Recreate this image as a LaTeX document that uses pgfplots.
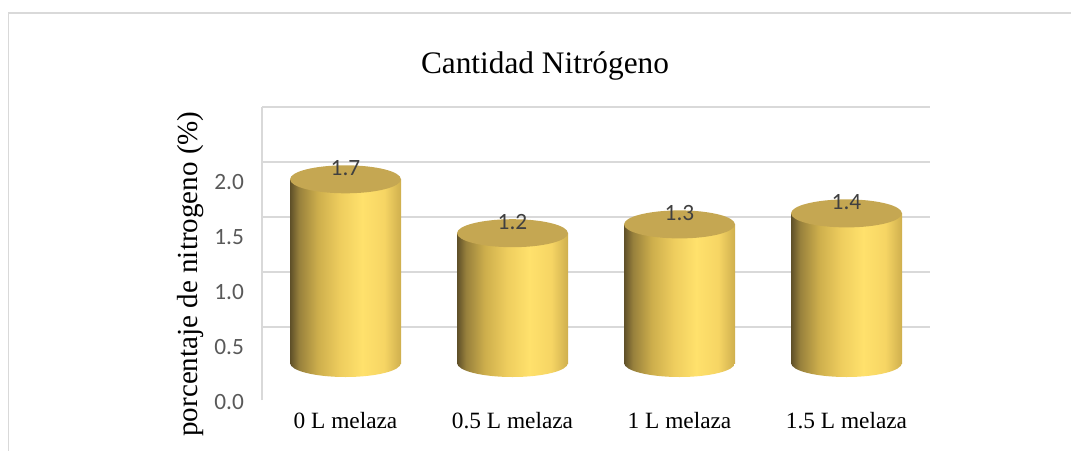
\documentclass[border=0pt]{standalone}
\usepackage{pgfplots}
\usepackage{pgfplotstable}
\pgfplotsset{compat=1.18}
\usepackage{fontspec}
\setmainfont{Liberation Serif}
\newfontfamily\calibri{Carlito}

\definecolor{gridgray}{HTML}{D9D9D9}
\definecolor{ticktext}{HTML}{595959}
\definecolor{lbltext}{HTML}{404040}
\definecolor{captop}{HTML}{C5A752}
\definecolor{c0}{HTML}{5E4F28}
\definecolor{c1}{HTML}{97803C}
\definecolor{c2}{HTML}{CDAE4C}
\definecolor{c3}{HTML}{EECD5E}
\definecolor{c4}{HTML}{FFE16C}
\definecolor{c5}{HTML}{F6D564}
\definecolor{c6}{HTML}{CFAF4E}

% cylinder body: dark on the left, bright right of centre
\pgfdeclarehorizontalshading{cylshade}{100bp}{color(0bp)=(c0); color(25bp)=(c0);
  color(29bp)=(c1); color(37.5bp)=(c2); color(47.5bp)=(c3); color(57.5bp)=(c4);
  color(67.5bp)=(c5); color(75bp)=(c6); color(100bp)=(c6)}

\pgfdeclareplotmark{cyltop}{%
  \pgfpathellipse{\pgfpointorigin}{\pgfqpoint{41.6pt}{0pt}}{\pgfqpoint{0pt}{10.5pt}}%
  \pgfusepathqfill}
\pgfdeclareplotmark{cylbot}{%
  \pgfpathellipse{\pgfpointorigin}{\pgfqpoint{41.6pt}{0pt}}{\pgfqpoint{0pt}{10.5pt}}%
  \pgfshadepath{cylshade}{0}\pgfusepath{}}

\pgfplotstableread{
x v
0 1.67
1 1.18
2 1.26
3 1.36
}\nitro

% one body per plot (rows #1 .. #2-1), so that each cylinder gets its own shading
\newcommand\cylbody[2]{%
  \addplot[ybar, bar width=83.25pt, bar shift=0pt, draw=none, shade, shading=cylshade, yshift=14.25pt,
    skip coords between index={0}{#1}, skip coords between index={#2}{4}]
    table[x=x, y=v] {\nitro};}

\begin{document}
\begin{tikzpicture}
\useasboundingbox (0,0) rectangle (803.25pt,-337.5pt);
\draw[gridgray, line width=1.1pt] (6.4pt,-340pt) -- (6.4pt,-9.75pt) -- (806pt,-9.75pt);

\begin{axis}[
  at={(196.5pt,-300pt)}, anchor=south west,
  scale only axis, width=501pt, height=219.75pt,
  xmin=-0.5, xmax=3.5, ymin=-0.1636, ymax=2.5,
  axis line style={draw=none},
  major tick length=0pt,
  clip=false,
  /pgf/number format/assume math mode=true,
  xtick={0,1,2,3},
  xticklabels={0 L melaza, 0.5 L melaza, 1 L melaza, 1.5 L melaza},
  xticklabel style={font=\fontsize{17.5}{20}\selectfont, yshift=-6pt},
  ytick={0,0.5,1,1.5,2},
  yticklabels={0.0,0.5,1.0,1.5,2.0},
  yticklabel style={font=\calibri\fontsize{17.5}{20}\selectfont, text=ticktext, yshift=-15pt, xshift=-10pt},
  major grid style={draw=gridgray, line width=1.1pt},
  extra y ticks={0.5,1,1.5,2,2.5}, extra y tick labels={},
  extra y tick style={grid=major},
  extra x ticks={-0.5}, extra x tick labels={},
  extra x tick style={grid=major},
]
\addplot[only marks, mark=cylbot, yshift=14.25pt] coordinates {(0,0) (1,0) (2,0) (3,0)};
\cylbody{0}{1}
\cylbody{1}{2}
\cylbody{2}{3}
\cylbody{3}{4}
\addplot[only marks, mark=cyltop, color=captop, yshift=14.25pt,
  nodes near coords={\pgfmathprintnumber[fixed, fixed zerofill, precision=1]{\pgfplotspointmeta}},
  nodes near coords style={font=\calibri\fontsize{17.5}{20}\selectfont, text=lbltext, anchor=center, yshift=8.25pt}]
  table[x=x, y=v] {\nitro};
\end{axis}

\node[anchor=base, font=\fontsize{23.5}{28}\selectfont] at (408.75pt,-54.75pt) {Cantidad Nitrógeno};
\node[anchor=base, rotate=90, font=\fontsize{21.8}{26}\selectfont] at (147.75pt,-205.5pt) {porcentaje de nitrogeno (\%)};
\end{tikzpicture}
\end{document}
